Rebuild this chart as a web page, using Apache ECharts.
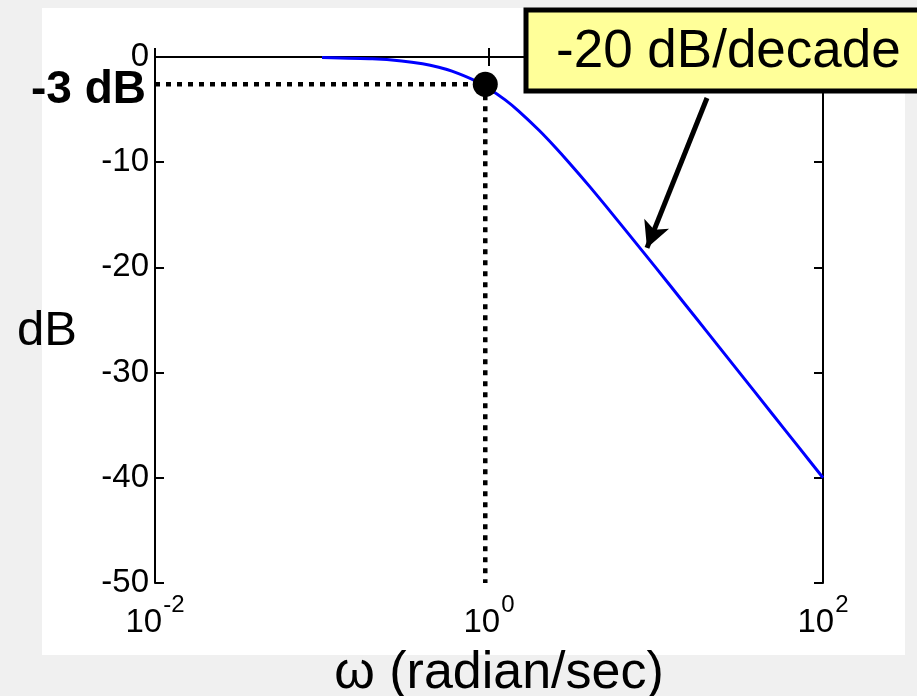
<!DOCTYPE html>
<html>
<head>
<meta charset="utf-8">
<script src="https://cdn.jsdelivr.net/npm/echarts@6.0.0/dist/echarts.min.js"></script>
<style>
html,body{margin:0;padding:0;background:#f0f0f0;}
#chart{width:917px;height:696px;}
</style>
</head>
<body>
<div id="chart"></div>
<script>
// ---- data ----
var omega = [0.1, 0.2, 0.3, 0.4, 0.5, 0.6, 0.8, 1, 1.25, 1.5, 2, 2.5, 3, 4, 5, 7, 10, 15, 20, 30, 50, 70, 100];
var magDb = [-0.04, -0.17, -0.37, -0.64, -0.97, -1.34, -2.15, -3.01, -4.08, -5.12, -6.99, -8.6, -10.0, -12.3, -14.15, -17.0, -20.04, -23.55, -26.03, -29.55, -33.98, -36.9, -40.0];
var cutoffPoint = [0.95, -2.6];
var xRange = [0.01, 100];
var yRange = [-50, 0];
var yStep = 10;
var arrowFrom = [20.2, -3.9];
var arrowTo = [8.83, -18.15];
var annotationText = '-20 dB/decade';
var cutoffText = '-3 dB';
var yName = 'dB';
var xName = '\u03c9 (radian/sec)';

var FONT = '"Liberation Sans", Arial, Helvetica, sans-serif';
var curve = omega.map(function (w, i) { return [w, magDb[i]]; });
var hLine = [[xRange[0], cutoffPoint[1]], [cutoffPoint[0], cutoffPoint[1]]];
var vLine = [[cutoffPoint[0], cutoffPoint[1]], [cutoffPoint[0], yRange[0]]];

var chart = echarts.init(document.getElementById('chart'), null, {renderer: 'canvas'});

function expLabel(v) {
  var e = Math.round(Math.log(v) / Math.LN10);
  return '{b|10}{s|' + e + '}';
}

var axisLineStyle = {color: '#000', width: 2};

var option = {
  backgroundColor: '#f0f0f0',
  animation: false,
  grid: {left: 155, right: 94, top: 57, bottom: 113, containLabel: false},
  xAxis: [{
    type: 'log', logBase: 10, min: xRange[0], max: xRange[1], interval: 2,
    position: 'bottom',
    axisLine: {show: true, lineStyle: axisLineStyle},
    axisTick: {show: true, inside: true, length: 9, lineStyle: axisLineStyle},
    minorTick: {show: false}, splitLine: {show: false},
    axisLabel: {
      show: true, margin: 6, color: '#000', fontFamily: FONT, fontSize: 33,
      formatter: expLabel,
      rich: {
        b: {fontSize: 33, lineHeight: 50, fontFamily: FONT, color: '#000', verticalAlign: 'bottom'},
        s: {fontSize: 24, lineHeight: 40, verticalAlign: 'top', padding: [4, 0, 0, 1], fontFamily: FONT, color: '#000'}
      }
    }
  }, {
    type: 'log', logBase: 10, min: xRange[0], max: xRange[1], interval: 2,
    position: 'top',
    axisLine: {show: true, lineStyle: axisLineStyle},
    axisTick: {show: true, inside: true, length: 9, lineStyle: axisLineStyle},
    minorTick: {show: false}, splitLine: {show: false},
    axisLabel: {show: false}
  }],
  yAxis: [{
    type: 'value', min: yRange[0], max: yRange[1], interval: yStep,
    position: 'left',
    axisLine: {show: true, lineStyle: axisLineStyle},
    axisTick: {show: true, inside: true, length: 9, lineStyle: axisLineStyle},
    splitLine: {show: false},
    axisLabel: {show: true, margin: 6, color: '#000', fontSize: 33, fontFamily: FONT}
  }, {
    type: 'value', min: yRange[0], max: yRange[1], interval: yStep,
    position: 'right',
    axisLine: {show: true, lineStyle: axisLineStyle},
    axisTick: {show: true, inside: true, length: 9, lineStyle: axisLineStyle},
    splitLine: {show: false},
    axisLabel: {show: false}
  }],
  graphic: [
    {type: 'rect', z: -10, silent: true, shape: {x: 42, y: 8, width: 863, height: 647}, style: {fill: '#ffffff'}},
    {type: 'text', z: 100, style: {x: 146, y: 90, text: cutoffText, font: 'bold 46px ' + FONT, fill: '#000', textAlign: 'right', textVerticalAlign: 'middle'}},
    {type: 'text', z: 100, style: {x: 17, y: 331, text: yName, font: '49px ' + FONT, fill: '#000', textAlign: 'left', textVerticalAlign: 'middle'}},
    {type: 'text', z: 100, style: {x: 499, y: 674, text: xName, font: '52px ' + FONT, fill: '#000', textAlign: 'center', textVerticalAlign: 'middle'}},
    {type: 'rect', z: 100, shape: {x: 526, y: 10, width: 420, height: 81}, style: {fill: '#ffff99', stroke: '#000', lineWidth: 5}},
    {type: 'text', z: 101, style: {x: 556, y: 52, text: annotationText, font: '53px ' + FONT, fill: '#000', textAlign: 'left', textVerticalAlign: 'middle'}}
  ],
  series: [
    {
      type: 'line', name: 'magnitude', data: curve, showSymbol: false, symbol: 'none',
      smooth: 0.2, lineStyle: {color: '#0000ff', width: 3}, z: 3,
      markLine: {
        silent: true, symbol: ['none', 'arrow'], symbolSize: [20, 26],
        lineStyle: {color: '#000', width: 5, type: 'solid'},
        itemStyle: {color: '#000'},
        label: {show: false},
        data: [[{coord: arrowFrom}, {coord: arrowTo}]]
      }
    },
    {
      type: 'line', name: 'h', data: hLine, showSymbol: false, symbol: 'none',
      lineStyle: {color: '#000', width: 4.5, type: [5, 6]}, z: 4
    },
    {
      type: 'line', name: 'v', data: vLine, showSymbol: false, symbol: 'none',
      lineStyle: {color: '#000', width: 4.5, type: [5, 6]}, z: 4
    },
    {
      type: 'scatter', name: 'cut', data: [cutoffPoint], symbol: 'circle', symbolSize: 25,
      itemStyle: {color: '#000', opacity: 1}, z: 5
    }
  ]
};
chart.setOption(option);
</script>
</body>
</html>
